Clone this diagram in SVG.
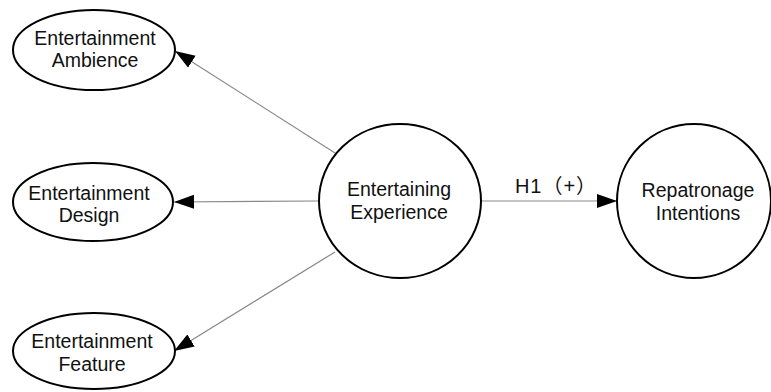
<svg xmlns="http://www.w3.org/2000/svg" width="771" height="392" viewBox="0 0 771 392">
<style>
.node{fill:#fff;stroke:#000;stroke-width:2}
.lbl{font-family:"Liberation Sans",Arial,sans-serif;font-size:19.5px;fill:#111;text-anchor:middle}
.edge{stroke:#888;stroke-width:1.2;fill:none;marker-end:url(#ah)}
</style>
<defs>
<marker id="ah" markerUnits="userSpaceOnUse" markerWidth="22" markerHeight="16" refX="20" refY="7" orient="auto">
<path d="M0,0 L20,7 L0,14 z" fill="#000"/>
</marker>
</defs>
<rect width="771" height="392" fill="#fff"/>
<g id="connectors">
<line class="edge" x1="335" y1="153" x2="175" y2="51"/>
<line class="edge" x1="318" y1="201" x2="174" y2="202"/>
<line class="edge" x1="335" y1="252" x2="174" y2="351"/>
<line class="edge" x1="482" y1="201" x2="617" y2="201"/>
<text class="lbl" x="556" y="193" style="font-family:'Liberation Sans','Noto Sans CJK SC',sans-serif;font-size:20px;letter-spacing:1px">H1（+）</text>
</g>
<g id="ambience">
<ellipse class="node" cx="94" cy="50" rx="81" ry="40"/>
<text class="lbl" x="95" y="45">Entertainment</text>
<text class="lbl" x="95" y="67">Ambience</text>
</g>
<g id="design">
<ellipse class="node" cx="93" cy="202" rx="80" ry="39"/>
<text class="lbl" x="89" y="200">Entertainment</text>
<text class="lbl" x="89" y="222">Design</text>
</g>
<g id="feature">
<ellipse class="node" cx="94" cy="351" rx="81" ry="38"/>
<text class="lbl" x="92" y="348">Entertainment</text>
<text class="lbl" x="92" y="371">Feature</text>
</g>
<g id="experience">
<ellipse class="node" cx="400" cy="201" rx="81" ry="77"/>
<text class="lbl" x="399" y="196">Entertaining</text>
<text class="lbl" x="399" y="219">Experience</text>
</g>
<g id="repatronage">
<ellipse class="node" cx="694" cy="201" rx="77" ry="77"/>
<text class="lbl" x="698" y="197">Repatronage</text>
<text class="lbl" x="698" y="220">Intentions</text>
</g>
</svg>
